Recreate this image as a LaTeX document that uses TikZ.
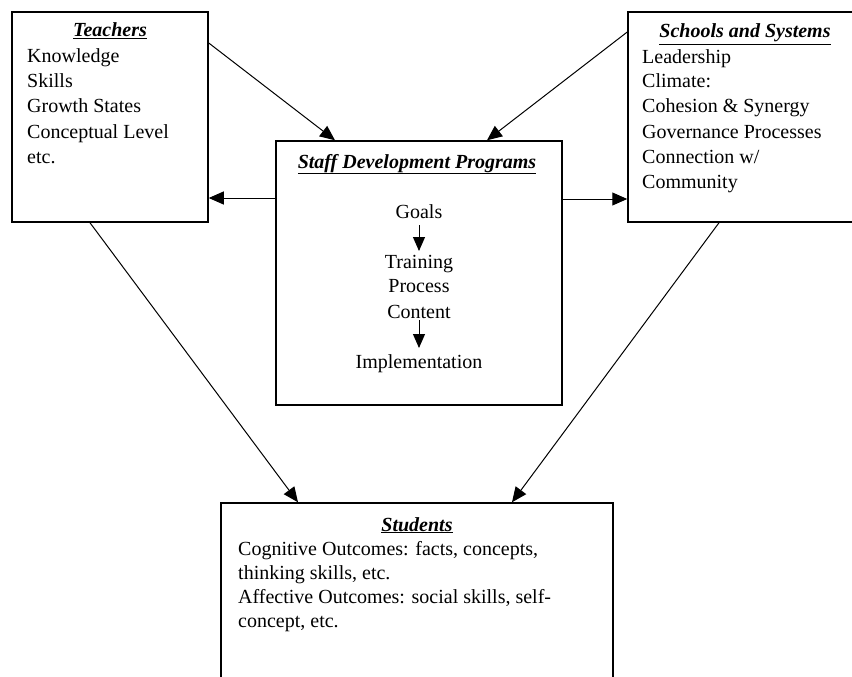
\documentclass[tikz,border=0pt]{standalone}
\usepackage{fontspec}
\setmainfont{Liberation Serif}
\usetikzlibrary{arrows.meta}
\begin{document}
\begin{tikzpicture}[x=1pt,y=-1pt,
  box/.style={draw=black,line width=1.5pt,inner sep=0pt,rectangle},
  txt/.style={anchor=base west,inner sep=0pt,font=\fontsize{20}{24.5}\selectfont},
  ctxt/.style={anchor=base,inner sep=0pt,font=\fontsize{20}{24.5}\selectfont},
  conn/.style={line width=1pt,-{Stealth[inset=0pt,length=15pt,width=13pt]}},
  small/.style={line width=1pt,-{Stealth[inset=0pt,length=14pt,width=12pt]}}]
\useasboundingbox (0,0) rectangle (852,677);
% boxes
\node[box,minimum width=196pt,minimum height=210pt] (teach) at (110,117) {};
\node[box,minimum width=236pt,minimum height=210pt] (school) at (746,117) {};
\node[box,minimum width=286pt,minimum height=264pt] (staff) at (419,273) {};
\node[box,minimum width=392pt,minimum height=200pt] (stud) at (417,603) {};
% Teachers text
\node[ctxt] (tt) at (110,37) {\textbf{\textit{\underline{Teachers}}}};
\node[txt] (t1) at (27,63) {Knowledge};
\node[txt] (t2) at (27,88) {Skills};
\node[txt] (t3) at (27,113) {Growth States};
\node[txt] (t4) at (27,138) {Conceptual Level};
\node[txt] (t5) at (27,163) {etc.};
% Schools text
\node[ctxt] (st) at (745,38) {\textbf{\textit{\underline{Schools and Systems}}}};
\node[txt] (s1) at (642,64) {Leadership};
\node[txt] (s2) at (642,88) {Climate:};
\node[txt] (s3) at (642,113) {Cohesion \& Synergy};
\node[txt] (s4) at (642,138) {Governance Processes};
\node[txt] (s5) at (642,163) {Connection w/};
\node[txt] (s6) at (642,188) {Community};
% Staff text
\node[ctxt] (ft) at (417,168) {\textbf{\textit{\underline{Staff Development Programs}}}};
\node[ctxt] (g) at (419,218) {Goals};
\node[ctxt] (tr) at (419,268) {Training};
\node[ctxt] (pr) at (419,292) {Process};
\node[ctxt] (co) at (419,318) {Content};
\node[ctxt] (im) at (419,368) {Implementation};
\draw[small] (g.south |- 0,225) -- (tr.north |- 0,251);
\draw[small] (co.south |- 0,320) -- (im.north |- 0,348);
% Students text
\node[ctxt] (sut) at (417,531) {\textbf{\textit{\underline{Students}}}};
\node[txt] (u1) at (238,555) {Cognitive Outcomes: facts, concepts,};
\node[txt] (u2) at (238,579) {thinking skills, etc.};
\node[txt] (u3) at (238,603) {Affective Outcomes: social skills, self-};
\node[txt] (u4) at (238,627) {concept, etc.};
% connectors
\draw[conn] (teach.east |- 0,43) -- (staff.north -| 335,0);
\draw[conn] (school.west |- 0,32) -- (staff.north -| 487,0);
\draw[conn] (staff.west |- 0,198) -- (teach.east |- 0,198);
\draw[conn] (staff.east |- 0,199) -- (school.west |- 0,199);
\draw[conn] (teach.south -| 90,0) -- (stud.north -| 298,0);
\draw[conn] (school.south -| 719,0) -- (stud.north -| 512,0);
\end{tikzpicture}
\end{document}
